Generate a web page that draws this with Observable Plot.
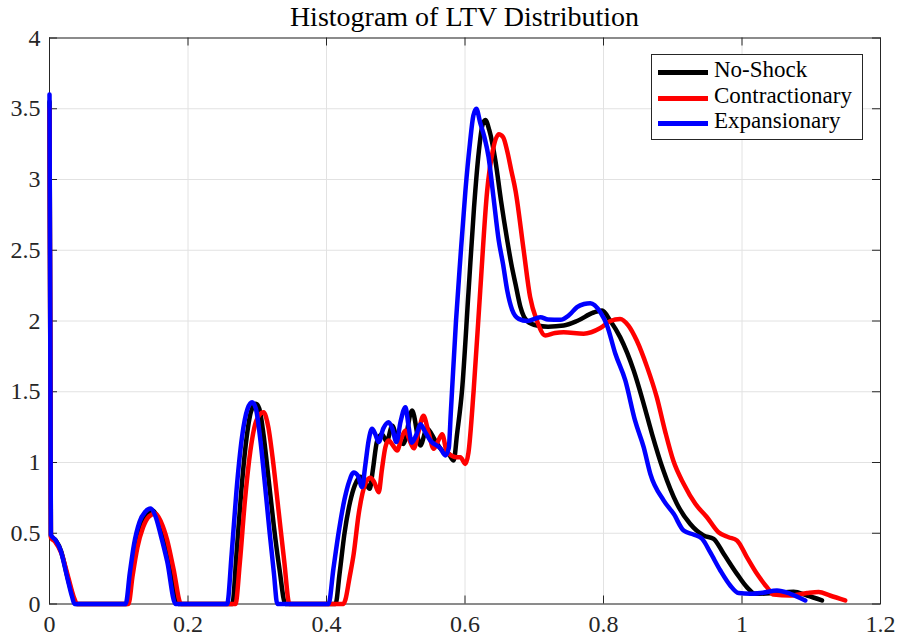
<!DOCTYPE html>
<html>
<head>
<meta charset="utf-8">
<script src="https://cdn.jsdelivr.net/npm/d3@7"></script>
<script src="https://cdn.jsdelivr.net/npm/@observablehq/plot@0.6"></script>
<style>
  body { margin: 0; background: #fff; }
  #wrap { position: relative; width: 899px; height: 639px; font-family: "Liberation Serif", serif; }
  #chart { position: absolute; left: 0; top: 0; }
  #chart svg text { font-family: "Liberation Serif", serif; }
  #title { position: absolute; left: 49px; width: 831px; top: 2.5px; text-align: center; font-size: 28px; line-height: 28px; color: #000; white-space: nowrap; }
  #legend { position: absolute; left: 651px; top: 54px; width: 210px; height: 84px; border: 1px solid #262626; background: #fff; }
  .lg-line { position: absolute; left: 6px; width: 50px; height: 4.5px; }
  .lg-text { position: absolute; left: 62px; font-size: 23px; line-height: 23px; color: #000; white-space: nowrap; }
</style>
</head>
<body>
<div id="wrap">
  <div id="chart"></div>
  <div id="title"></div>
  <div id="legend"></div>
</div>
<script>
// ---------- data ----------
const titleText = "Histogram of LTV Distribution";
const seriesNames = ["No-Shock", "Contractionary", "Expansionary"];
const seriesColors = ["#000000", "#ff0000", "#0000ff"];
const xTicks = [0, 0.2, 0.4, 0.6, 0.8, 1, 1.2];
const yTicks = [0, 0.5, 1, 1.5, 2, 2.5, 3, 3.5, 4];

const noShockX = [0, 0.002, 0.009, 0.017, 0.026, 0.034, 0.038,
  0.112, 0.118, 0.124, 0.132, 0.141, 0.149, 0.157, 0.166, 0.175, 0.186,
  0.264, 0.27, 0.277, 0.284, 0.291, 0.298, 0.303, 0.309, 0.316, 0.324, 0.332, 0.3407,
  0.413, 0.419, 0.426, 0.434, 0.441, 0.449, 0.455, 0.4624, 0.467, 0.473, 0.48, 0.487, 0.495, 0.503, 0.511,
  0.5236, 0.5356, 0.545, 0.557, 0.567, 0.575, 0.5837, 0.5885, 0.5957, 0.605, 0.613, 0.62, 0.625, 0.6294,
  0.635, 0.644, 0.652, 0.661, 0.667, 0.673, 0.68, 0.6896, 0.704, 0.72, 0.7425, 0.7618, 0.7858, 0.798,
  0.81, 0.824, 0.8436, 0.858, 0.87, 0.886, 0.906, 0.925, 0.9446, 0.959, 0.9735, 0.9927, 1.007, 1.019,
  1.0456, 1.0745, 1.094, 1.1155];
const noShockY = [3.55, 0.48, 0.45, 0.37, 0.19, 0.05, 0,
  0, 0.2, 0.4, 0.56, 0.64, 0.66, 0.6, 0.45, 0.25, 0,
  0, 0.35, 0.8, 1.15, 1.36, 1.415, 1.38, 1.2, 0.9, 0.55, 0.25, 0,
  0, 0.22, 0.5, 0.72, 0.84, 0.9, 0.87, 0.814, 0.95, 1.15, 1.2, 1.15, 1.26, 1.15, 1.13,
  1.367, 1.12, 1.24, 1.155, 1.085, 1.07, 1.014, 1.2, 1.509, 2.2, 2.8, 3.2, 3.38, 3.42,
  3.35, 3.13, 2.85, 2.57, 2.4, 2.26, 2.1, 2.0, 1.968, 1.96, 1.968, 2.0, 2.06, 2.074,
  2.0, 1.886, 1.65, 1.415, 1.203, 0.95, 0.708, 0.567, 0.484, 0.461, 0.355, 0.213, 0.119, 0.072,
  0.077, 0.086, 0.06, 0.025];

const contrX = [0, 0.002, 0.008, 0.017, 0.027, 0.035, 0.04,
  0.114, 0.12, 0.127, 0.135, 0.144, 0.153, 0.161, 0.17, 0.179, 0.19,
  0.2685, 0.275, 0.282, 0.29, 0.299, 0.309, 0.316, 0.323, 0.331, 0.339, 0.3465,
  0.4245, 0.4273, 0.433, 0.4393, 0.4465, 0.456, 0.4634, 0.469, 0.4754, 0.48, 0.485, 0.4898, 0.496, 0.502,
  0.508, 0.514, 0.519, 0.526, 0.533, 0.54, 0.547, 0.5548, 0.561, 0.567, 0.574, 0.5886, 0.5933, 0.6005,
  0.605, 0.6125, 0.622, 0.632, 0.64, 0.6487, 0.655, 0.661, 0.667, 0.673, 0.6847, 0.694, 0.704, 0.716,
  0.73, 0.7425, 0.7713, 0.7955, 0.81, 0.824, 0.836, 0.848, 0.863, 0.877, 0.889, 0.901, 0.9157,
  0.9326, 0.9494, 0.966, 0.9807, 0.9927, 1.007, 1.0216, 1.036, 1.0456, 1.0697, 1.094, 1.1106, 1.127, 1.149];
const contrY = [3.5, 0.47, 0.44, 0.36, 0.19, 0.05, 0,
  0, 0.2, 0.4, 0.54, 0.62, 0.64, 0.58, 0.45, 0.25, 0,
  0, 0.3, 0.72, 1.08, 1.3, 1.355, 1.25, 1.0, 0.65, 0.3, 0,
  0, 0.03, 0.18, 0.355, 0.637, 0.849, 0.892, 0.86, 0.79, 0.95, 1.108, 1.155, 1.12, 1.085,
  1.17, 1.226, 1.17, 1.1, 1.22, 1.33, 1.22, 1.097, 1.15, 1.2, 1.073, 1.037, 1.037, 0.99,
  1.07, 1.509, 2.215, 2.92, 3.2, 3.32, 3.3, 3.2, 3.06, 2.92, 2.5, 2.17, 2.0, 1.897,
  1.915, 1.92, 1.91, 1.95, 2.0, 2.015, 1.968, 1.862, 1.674, 1.46, 1.22, 1.01, 0.85,
  0.708, 0.613, 0.507, 0.472, 0.449, 0.331, 0.213, 0.119, 0.067, 0.06, 0.077, 0.084, 0.06, 0.025];

const expanX = [0, 0.002, 0.009, 0.016, 0.0255, 0.0327, 0.036,
  0.11, 0.116, 0.122, 0.13, 0.138, 0.146, 0.153, 0.161, 0.17, 0.182,
  0.2565, 0.263, 0.27, 0.278, 0.286, 0.2926, 0.298, 0.304, 0.311, 0.318, 0.324, 0.329,
  0.403, 0.41, 0.418, 0.426, 0.433, 0.4393, 0.445, 0.4514, 0.456, 0.461, 0.4658, 0.4705, 0.4754, 0.482,
  0.4898, 0.495, 0.501, 0.507, 0.514, 0.5187, 0.523, 0.53, 0.5356, 0.542, 0.55, 0.5645, 0.5717, 0.5765,
  0.5795, 0.5813, 0.587, 0.5934, 0.6006, 0.607, 0.612, 0.6164, 0.622, 0.628, 0.634, 0.641, 0.6487, 0.655,
  0.661, 0.668, 0.6776, 0.69, 0.709, 0.72, 0.7377, 0.75, 0.7618, 0.772, 0.781, 0.7955, 0.805, 0.817,
  0.8315, 0.8455, 0.858, 0.8676, 0.887, 0.9013, 0.9157, 0.93, 0.9423, 0.954, 0.9687, 0.983, 0.995, 1.012,
  1.03, 1.0505, 1.0697, 1.0914];
const expanY = [3.6, 0.49, 0.45, 0.38, 0.19, 0.05, 0,
  0, 0.22, 0.42, 0.58, 0.65, 0.675, 0.62, 0.48, 0.3, 0,
  0, 0.35, 0.8, 1.18, 1.38, 1.426, 1.38, 1.18, 0.85, 0.5, 0.22, 0,
  0, 0.25, 0.52, 0.74, 0.87, 0.93, 0.91, 0.826, 0.98, 1.16, 1.238, 1.2, 1.144, 1.24,
  1.285, 1.24, 1.144, 1.29, 1.391, 1.25, 1.14, 1.2, 1.27, 1.22, 1.155, 1.1, 1.05, 1.1,
  1.35, 1.51, 2.0, 2.45, 2.92, 3.25, 3.45, 3.5, 3.4, 3.3, 3.16, 2.88, 2.57, 2.4,
  2.215, 2.08, 2.015, 2.0, 2.027, 2.01, 2.008, 2.04, 2.098, 2.12, 2.126, 2.062, 1.97, 1.77,
  1.58, 1.297, 1.108, 0.92, 0.731, 0.637, 0.519, 0.491, 0.461, 0.366, 0.237, 0.131, 0.077, 0.072,
  0.08, 0.095, 0.072, 0.025];

// ---------- build ----------
const toRows = (xs, ys) => xs.map((x, i) => ({x, y: ys[i]}));
const seriesRows = [toRows(noShockX, noShockY), toRows(contrX, contrY), toRows(expanX, expanY)];

const W = 899, H = 639;
const mL = 49, mR = 19, mT = 37.5, mB = 35.5;
const tickPx = 8;
const yTickLen = tickPx * 4 / (H - mT - mB);
const xTickLen = tickPx * 1.2 / (W - mL - mR);
const axisColor = "#262626";
const serif = "Liberation Serif";
const fmt = d => String(d);

const plot = Plot.plot({
  width: W, height: H,
  marginLeft: mL, marginRight: mR, marginTop: mT, marginBottom: mB,
  style: {fontFamily: serif, fontSize: "24px", color: axisColor, background: "transparent"},
  x: {domain: [0, 1.2]},
  y: {domain: [0, 4]},
  marks: [
    Plot.gridX(xTicks, {stroke: "#e2e2e2", strokeOpacity: 1}),
    Plot.gridY(yTicks, {stroke: "#e2e2e2", strokeOpacity: 1}),
    Plot.axisX(xTicks, {tickSize: 0, tickPadding: 11, tickFormat: fmt, fontSize: 24, fontFamily: serif, label: null}),
    Plot.axisY(yTicks, {tickSize: 0, tickPadding: 9, tickFormat: fmt, fontSize: 24, fontFamily: serif, label: null}),
    Plot.ruleX(xTicks, {y1: 0, y2: yTickLen, stroke: axisColor}),
    Plot.ruleX(xTicks, {y1: 4 - yTickLen, y2: 4, stroke: axisColor}),
    Plot.ruleY(yTicks, {x1: 0, x2: xTickLen, stroke: axisColor}),
    Plot.ruleY(yTicks, {x1: 1.2 - xTickLen, x2: 1.2, stroke: axisColor}),
    Plot.frame({stroke: axisColor}),
    ...seriesRows.map((rows, i) => Plot.line(rows, {x: "x", y: "y", stroke: seriesColors[i], strokeWidth: 4.5, curve: "monotone-x", strokeLinejoin: "round"}))
  ]
});
document.getElementById("chart").appendChild(plot);
document.getElementById("title").textContent = titleText;

const legend = document.getElementById("legend");
const rowCenters = [17.7, 43.3, 68.7];
seriesNames.forEach((name, i) => {
  const ln = document.createElement("div");
  ln.className = "lg-line";
  ln.style.top = (rowCenters[i] - 2.25) + "px";
  ln.style.background = seriesColors[i];
  legend.appendChild(ln);
  const tx = document.createElement("div");
  tx.className = "lg-text";
  tx.style.top = (rowCenters[i] - 14.3) + "px";
  tx.textContent = name;
  legend.appendChild(tx);
});
</script>
</body>
</html>
